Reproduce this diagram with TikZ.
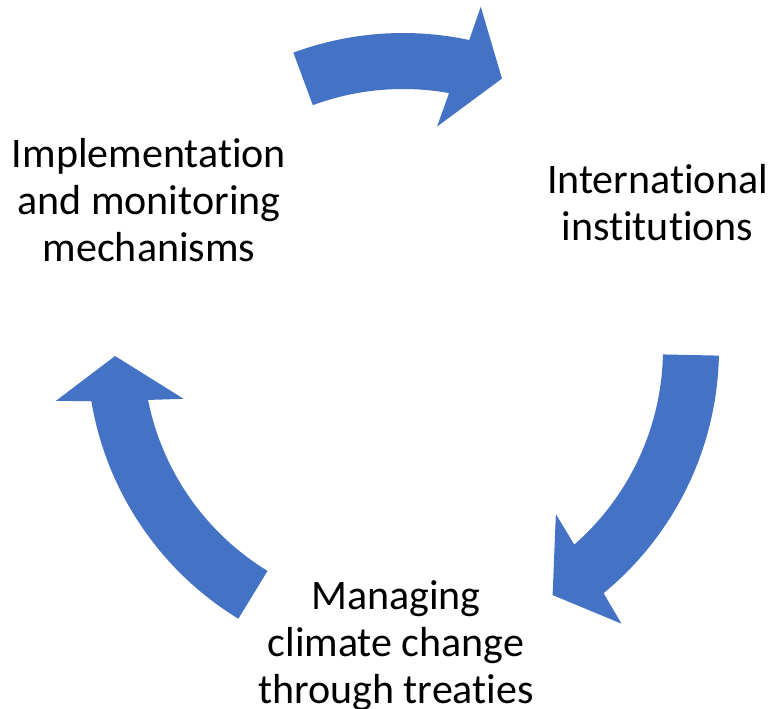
\documentclass[tikz,border=0pt]{standalone}
\usepackage{fontspec}
\setmainfont{Carlito}[Ligatures=NoCommon]
\definecolor{arrowblue}{HTML}{4472C4}
\tikzset{
  cyclearrow/.style={fill=arrowblue},
  steplabel/.style={align=center, inner sep=0pt, font=\fontsize{31.5}{35.25}\selectfont}
}
\begin{document}
\begin{tikzpicture}[x=0.75pt,y=0.75pt]
    \useasboundingbox (-403,-360) rectangle (367,349);

    % top arrow
    \fill[cyclearrow] (110.3:316) arc[start angle=110.3, end angle=77.9, radius=316]
        -- (77.2:351) -- (69.9:288) -- (81.3:225) -- (79.8:260)
        arc[start angle=79.8, end angle=110.3, radius=260] -- cycle;

    % right arrow
    \fill[cyclearrow] (-1.2:316) arc[start angle=-1.2, end angle=-50.6, radius=316]
        -- (-51.5:351) -- (-58.7:288) -- (-47.2:225) -- (-48.8:260)
        arc[start angle=-48.8, end angle=-1.2, radius=260] -- cycle;

    % left arrow
    \fill[cyclearrow] (238.6:316) arc[start angle=238.6, end angle=189.5, radius=316]
        -- (188.5:351) -- (181.4:288) -- (192.8:225) -- (191.3:260)
        arc[start angle=191.3, end angle=238.6, radius=260] -- cycle;

    \node[steplabel] (impl) at (-254,149) {Implementation\\and monitoring\\mechanisms};
    \node[steplabel] (inst) at (254.5,146.5) {International\\institutions};
    \node[steplabel] (treaty) at (-7,-296.5) {Managing\\climate change\\through treaties};
\end{tikzpicture}
\end{document}
